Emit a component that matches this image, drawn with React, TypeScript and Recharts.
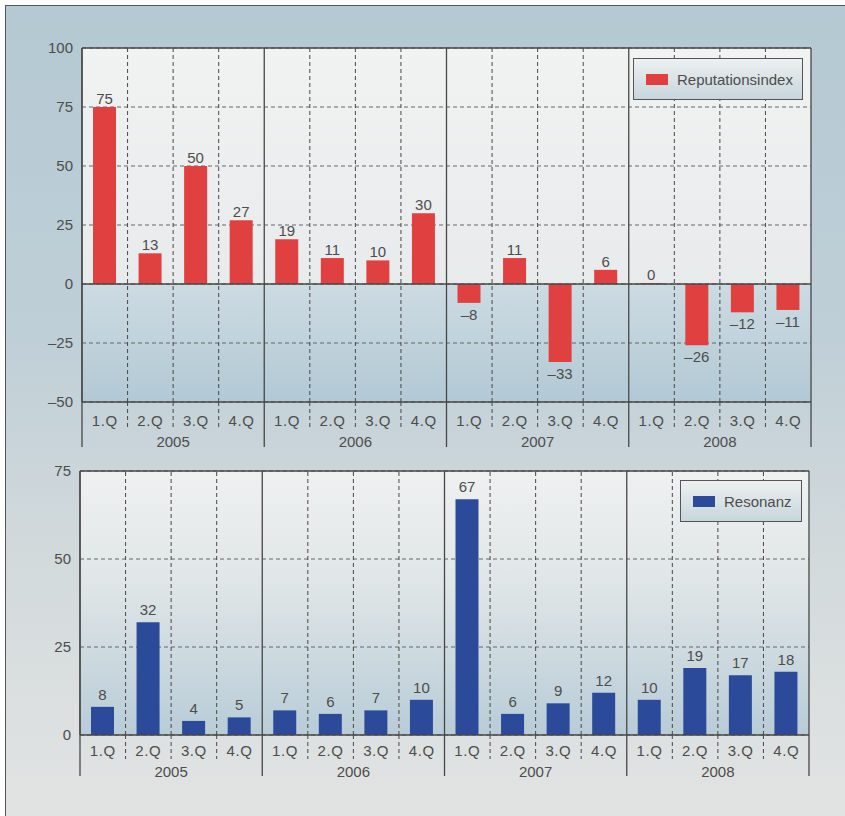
import { Bar, BarChart, CartesianGrid, LabelList, Legend, ReferenceLine, XAxis, YAxis } from "recharts";

const years = ["2005", "2006", "2007", "2008"];
const quarters = ["1.Q", "2.Q", "3.Q", "4.Q"];
const reputationsindex = [75, 13, 50, 27, 19, 11, 10, 30, -8, 11, -33, 6, 0, -26, -12, -11];
const resonanz = [8, 32, 4, 5, 7, 6, 7, 10, 67, 6, 9, 12, 10, 19, 17, 18];
const topTicks = [-50, -25, 0, 25, 50, 75, 100];
const bottomTicks = [0, 25, 50, 75];

const rows = years.flatMap((year, yi) =>
  quarters.map((quarter, qi) => {
    const i = yi * 4 + qi;
    return {
      key: `${year} ${quarter}`,
      year,
      quarter,
      reputationsindex: reputationsindex[i],
      resonanz: resonanz[i]
    };
  })
);

const FONT = "'Liberation Sans', Arial, Helvetica, sans-serif";
const TEXT = "#4d4d4d";
const LINE = "#474747";
const DASH = "4 3";

const fmt = (v: number) => (v < 0 ? `\u2013${Math.abs(v)}` : `${v}`);

function QuarterTick(props: any) {
  const { x, y, payload, index, qy, yy, dy, ly } = props;
  const i = payload?.index ?? index ?? 0;
  const off = payload?.offset ?? 22.8;
  const row = rows[i];
  if (!row) return null;
  const first = i % 4 === 0;
  return (
    <g>
      <line
        x1={x - off}
        x2={x - off}
        y1={y}
        y2={y + (first ? ly : dy)}
        stroke={LINE}
        strokeWidth={first ? 1.3 : 1}
        strokeDasharray={first ? undefined : DASH}
      />
      <text x={x} y={y + qy} textAnchor="middle" fill={TEXT} fontSize={15} fontFamily={FONT} letterSpacing={0.6}>
        {row.quarter}
      </text>
      {i % 4 === 1 && (
        <text x={x + off} y={y + yy} textAnchor="middle" fill={TEXT} fontSize={15} fontFamily={FONT}>
          {row.year}
        </text>
      )}
      {i === rows.length - 1 && (
        <line x1={x + off} x2={x + off} y1={y} y2={y + ly} stroke={LINE} strokeWidth={1.3} />
      )}
    </g>
  );
}

function ValueLabel(props: any) {
  const { x, y, width, height, value, gap } = props;
  const top = Math.min(y, y + height);
  const bottom = Math.max(y, y + height);
  const ty = value >= 0 ? top - gap : bottom + 17;
  return (
    <text x={x + width / 2} y={ty} textAnchor="middle" fill={TEXT} fontSize={15} fontFamily={FONT}>
      {fmt(value)}
    </text>
  );
}

function LegendBox(props: any) {
  const { payload, w, h } = props;
  const item = payload?.[0] ?? {};
  return (
    <div
      style={{
        width: w,
        height: h,
        boxSizing: "border-box",
        border: `1.5px solid #555`,
        background: "linear-gradient(#eef0f0, #c7d6dd)",
        display: "flex",
        alignItems: "center",
        paddingLeft: 12,
        fontFamily: FONT,
        fontSize: 15,
        color: TEXT
      }}
    >
      <span style={{ display: "inline-block", width: 22, height: 11, background: item.color, marginRight: 9 }} />
      {item.value}
    </div>
  );
}

export default function App() {
  const topMax = topTicks[topTicks.length - 1];
  const topMin = topTicks[0];
  const zeroFrac = (topMax - 0) / (topMax - topMin);
  const last = rows[rows.length - 1].key;

  const verticals = (prefix: string) =>
    rows.map((r, i) => (
      <ReferenceLine
        key={`${prefix}-${r.key}`}
        x={r.key}
        position="start"
        ifOverflow="visible"
        stroke={LINE}
        strokeWidth={i % 4 === 0 ? 1.3 : 1}
        strokeDasharray={i % 4 === 0 ? undefined : DASH}
      />
    ));

  return (
    <div style={{ position: "absolute", left: 0, top: 0, width: 845, height: 816, overflow: "hidden" }}>
      <div
        style={{
          position: "absolute",
          left: 5,
          top: 5,
          width: 850,
          height: 820,
          borderLeft: "1.5px solid #555",
          borderTop: "1.5px solid #555",
          background: "linear-gradient(#b4c9d3 0%, #bfcfd7 40%, #d3dadc 68%, #e2e4e3 100%)"
        }}
      />
      <div style={{ position: "absolute", left: 0, top: 0 }}>
        <BarChart width={845} height={460} data={rows} margin={{ top: 48, right: 34, bottom: 8, left: 0 }} barSize={23}>
          <defs>
            <linearGradient id="bgTop" x1="0" y1="0" x2="0" y2="1">
              <stop offset="0" stopColor="#f1f2f2" />
              <stop offset={zeroFrac} stopColor="#e8ebec" />
              <stop offset={zeroFrac} stopColor="#cddbe2" />
              <stop offset="1" stopColor="#b2c9d5" />
            </linearGradient>
          </defs>
          <CartesianGrid vertical={false} stroke="#666" strokeDasharray={DASH} fill="url(#bgTop)" fillOpacity={1} />
          {verticals("t")}
          <ReferenceLine x={last} position="end" ifOverflow="visible" stroke={LINE} strokeWidth={1.3} />
          <ReferenceLine y={topMax} stroke={LINE} strokeWidth={1.3} />
          <XAxis
            dataKey="key"
            interval={0}
            height={50}
            tickSize={0}
            tickMargin={0}
            tickLine={false}
            axisLine={{ stroke: LINE, strokeWidth: 1.3 }}
            tick={(p: any) => <QuarterTick {...p} qy={24} yy={45} dy={26} ly={45} />}
          />
          <YAxis
            domain={[topMin, topMax]}
            ticks={topTicks}
            width={82}
            tickSize={0}
            tickMargin={9}
            tickLine={false}
            tickFormatter={fmt}
            axisLine={{ stroke: LINE, strokeWidth: 1.3 }}
            tick={{ fill: TEXT, fontSize: 15, fontFamily: FONT }}
          />
          <Legend
            layout="vertical"
            align="center"
            verticalAlign="middle"
            wrapperStyle={{ top: 58, left: 633, width: 170, height: 42 }}
            content={(p: any) => <LegendBox {...p} w={170} h={42} />}
          />
          <Bar dataKey="reputationsindex" name="Reputationsindex" fill="#e0403f" minPointSize={1} isAnimationActive={false}>
            <LabelList dataKey="reputationsindex" content={(p: any) => <ValueLabel {...p} gap={3} />} />
          </Bar>
          <ReferenceLine y={0} stroke={LINE} strokeWidth={1.5} />
        </BarChart>
      </div>
      <div style={{ position: "absolute", left: 0, top: 460 }}>
        <BarChart width={845} height={356} data={rows} margin={{ top: 11, right: 36, bottom: 31, left: 0 }} barSize={23}>
          <defs>
            <linearGradient id="bgBottom" x1="0" y1="0" x2="0" y2="1">
              <stop offset="0" stopColor="#eff1f1" />
              <stop offset="0.42" stopColor="#e0e6e7" />
              <stop offset="1" stopColor="#b8ccd7" />
            </linearGradient>
          </defs>
          <CartesianGrid vertical={false} stroke="#666" strokeDasharray={DASH} fill="url(#bgBottom)" fillOpacity={1} />
          {verticals("b")}
          <ReferenceLine x={last} position="end" ifOverflow="visible" stroke={LINE} strokeWidth={1.3} />
          <ReferenceLine y={bottomTicks[bottomTicks.length - 1]} stroke={LINE} strokeWidth={1.3} />
          <XAxis
            dataKey="key"
            interval={0}
            height={50}
            tickSize={0}
            tickMargin={0}
            tickLine={false}
            axisLine={{ stroke: LINE, strokeWidth: 1.3 }}
            tick={(p: any) => <QuarterTick {...p} qy={21} yy={42} dy={24} ly={41} />}
          />
          <YAxis
            domain={[bottomTicks[0], bottomTicks[bottomTicks.length - 1]]}
            ticks={bottomTicks}
            width={80}
            tickSize={0}
            tickMargin={9}
            tickLine={false}
            axisLine={{ stroke: LINE, strokeWidth: 1.3 }}
            tick={{ fill: TEXT, fontSize: 15, fontFamily: FONT }}
          />
          <Legend
            layout="vertical"
            align="center"
            verticalAlign="middle"
            wrapperStyle={{ top: 20, left: 680, width: 122, height: 42 }}
            content={(p: any) => <LegendBox {...p} w={122} h={42} />}
          />
          <Bar dataKey="resonanz" name="Resonanz" fill="#2c4a9a" isAnimationActive={false}>
            <LabelList dataKey="resonanz" content={(p: any) => <ValueLabel {...p} gap={7} />} />
          </Bar>
        </BarChart>
      </div>
    </div>
  );
}
